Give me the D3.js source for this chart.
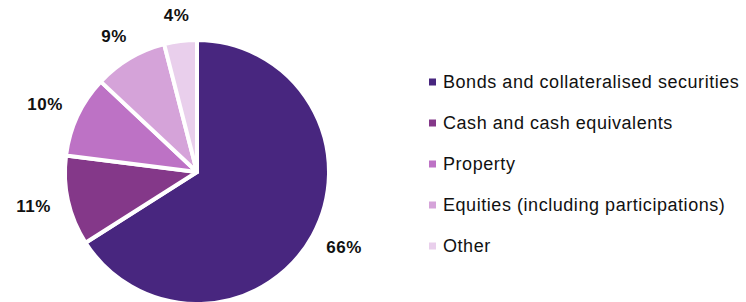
<!DOCTYPE html>
<html>
<head>
<meta charset="utf-8">
<script src="https://cdn.jsdelivr.net/npm/d3@7"></script>
<style>
  body { margin: 0; background: #fff; }
  text { font-family: "Liberation Sans", "DejaVu Sans", sans-serif; }
</style>
</head>
<body>
<svg id="chart" width="746" height="302"></svg>
<script>
// data
var categories = ["Bonds and collateralised securities", "Cash and cash equivalents",
    "Property", "Equities (including participations)", "Other"];
var values = [66, 11, 10, 9, 4];
var colors = ["#48267f", "#843889", "#bd72c5", "#d5a3d9", "#e9cfec"];

var w = 746, h = 302;
var cx = 197, cy = 172, r = 132;

var svg = d3.select("#chart");

var pie = d3.pie().sort(null).value((d) => d)(values);
var arc = d3.arc().innerRadius(0).outerRadius(r);

var g = svg.append("g").attr("transform", "translate(" + cx + "," + cy + ")");

g.selectAll("path.slice")
    .data(pie)
    .enter()
    .append("path")
    .attr("class", "slice")
    .attr("d", arc)
    .attr("fill", (d, i) => colors[i])
    .attr("stroke", "#fff")
    .attr("stroke-width", 4)
    .attr("stroke-linejoin", "round");

// percentage labels placed just outside the rim
var labels = g.selectAll("text.pct")
    .data(pie)
    .enter()
    .append("text")
    .attr("class", "pct")
    .attr("font-size", 17)
    .attr("font-weight", "bold")
    .attr("letter-spacing", 0.6)
    .attr("fill", "#111")
    .attr("text-anchor", "middle")
    .attr("dominant-baseline", "central")
    .text((d) => d.value + "%");

labels.each(function (d) {
    var a = (d.startAngle + d.endAngle) / 2;
    var bb = this.getBBox();
    var sx = Math.sin(a), sy = -Math.cos(a);
    var x = (r + 18) * sx + sx * bb.width / 2;
    var y = (r + 16) * sy + sy * bb.height / 2;
    d3.select(this).attr("x", x).attr("y", y);
});

// legend
var legend = svg.append("g").attr("transform", "translate(429,82)");
var rowH = 41;
var rows = legend.selectAll("g.row")
    .data(categories)
    .enter()
    .append("g")
    .attr("class", "row")
    .attr("transform", (d, i) => "translate(0," + i * rowH + ")");
rows.append("rect")
    .attr("x", 0).attr("y", -3.5)
    .attr("width", 7).attr("height", 7)
    .attr("fill", (d, i) => colors[i]);
rows.append("text")
    .attr("x", 14)
    .attr("y", 0)
    .attr("dominant-baseline", "central")
    .attr("font-size", 18)
    .attr("letter-spacing", 0.55)
    .attr("fill", "#111")
    .text((d) => d);
</script>
</body>
</html>
